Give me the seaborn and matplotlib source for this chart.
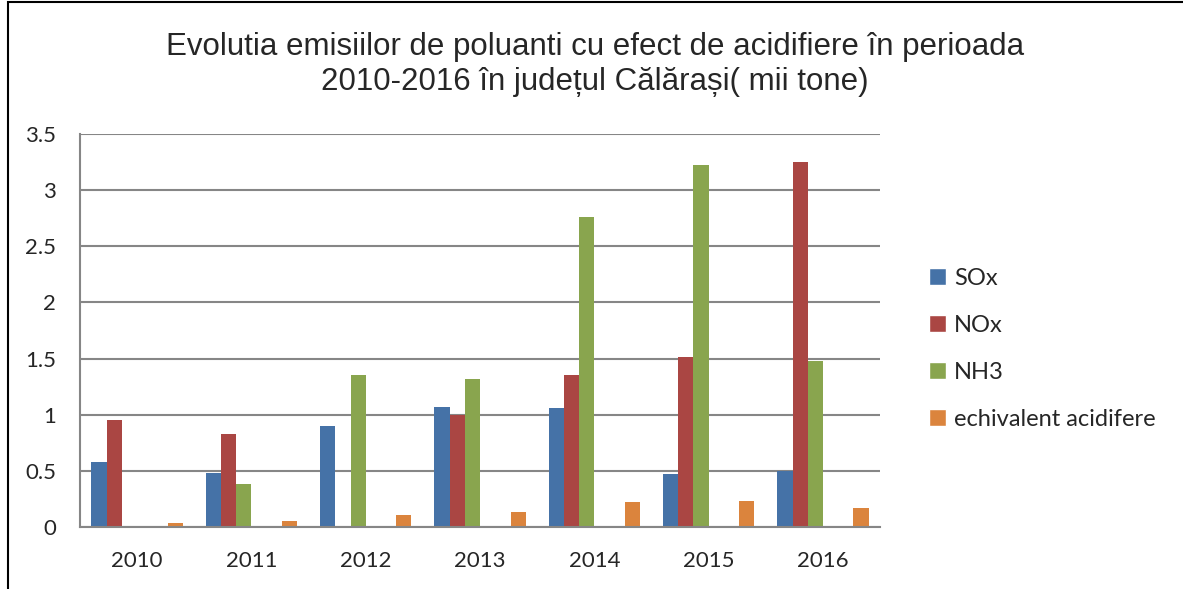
import pandas as pd
import numpy as np
import matplotlib.pyplot as plt
import seaborn as sns
from matplotlib.patches import Rectangle, Patch

# data
years = ['2010', '2011', '2012', '2013', '2014', '2015', '2016']
sox = [0.58, 0.48, 0.90, 1.07, 1.06, 0.47, 0.50]
nox = [0.95, 0.83, 0.0, 1.00, 1.35, 1.51, 3.25]
nh3 = [0.0, 0.385, 1.35, 1.32, 2.76, 3.22, 1.48]
echiv = [0.035, 0.05, 0.105, 0.13, 0.22, 0.235, 0.17]
series = ['SOx', 'NOx', 'NH3', 'echivalent acidifere']
colors = ['#4572A7', '#AA4643', '#89A54E', '#DB843D']

# the original chart has two empty series between NH3 and the orange one
empty = [0.0] * len(years)
all_series = ['SOx', 'NOx', 'NH3', '_gol1', '_gol2', 'echivalent acidifere']
all_values = [sox, nox, nh3, empty, empty, echiv]
all_colors = ['#4572A7', '#AA4643', '#89A54E', '#FFFFFF', '#FFFFFF', '#DB843D']

df = pd.DataFrame({
    'An': years * len(all_series),
    'Valoare': sum(all_values, []),
    'Poluant': [s for s in all_series for _ in years],
})

sns.set_style('white')
plt.rcParams['font.family'] = ['Lato', 'DejaVu Sans']

fig = plt.figure(figsize=(11.83, 5.89), dpi=100)
ax = fig.add_axes([0.0676, 0.1053, 0.6764, 0.6672])

sns.barplot(data=df, x='An', y='Valoare', hue='Poluant', hue_order=all_series,
            palette=all_colors, saturation=1, width=0.8, ax=ax, legend=False,
            linewidth=0)

ax.set_ylim(0, 3.5)
ax.set_yticks(np.arange(0, 3.51, 0.5))
ax.set_yticklabels(['0', '0.5', '1', '1.5', '2', '2.5', '3', '3.5'])
ax.set_xlim(-0.5, 6.5)
ax.yaxis.grid(True, color='#868686', linewidth=1.5)
ax.set_axisbelow(True)
ax.set_xlabel('')
ax.set_ylabel('')
ax.tick_params(axis='both', labelsize=16, length=0)
ax.tick_params(axis='y', pad=17)
ax.tick_params(axis='x', pad=17)
for s in ['top', 'right']:
    ax.spines[s].set_visible(False)
for s in ['left', 'bottom']:
    ax.spines[s].set_color('#868686')
    ax.spines[s].set_linewidth(1.5)

handles = [Patch(facecolor=c) for c in colors]
ax.legend(handles, series, loc='center left', bbox_to_anchor=(1.035, 0.453), frameon=False,
          fontsize=17, handlelength=0.7, handleheight=0.7,
          handletextpad=0.35, labelspacing=1.1)

fig.text(0.503, 0.89, 'Evolutia emisiilor de poluanti cu efect de acidifiere în perioada\n'
         '2010-2016 în județul Călărași( mii tone)',
         ha='center', va='center', fontsize=22.5, family=['Liberation Sans', 'DejaVu Sans'],
         linespacing=1.2)

# outer chart border
fig.patches.append(Rectangle((0.007, -0.01), 1.1, 1.007, transform=fig.transFigure,
                             fill=False, edgecolor='black', linewidth=1.5))

fig.savefig('out.png', dpi=100)
